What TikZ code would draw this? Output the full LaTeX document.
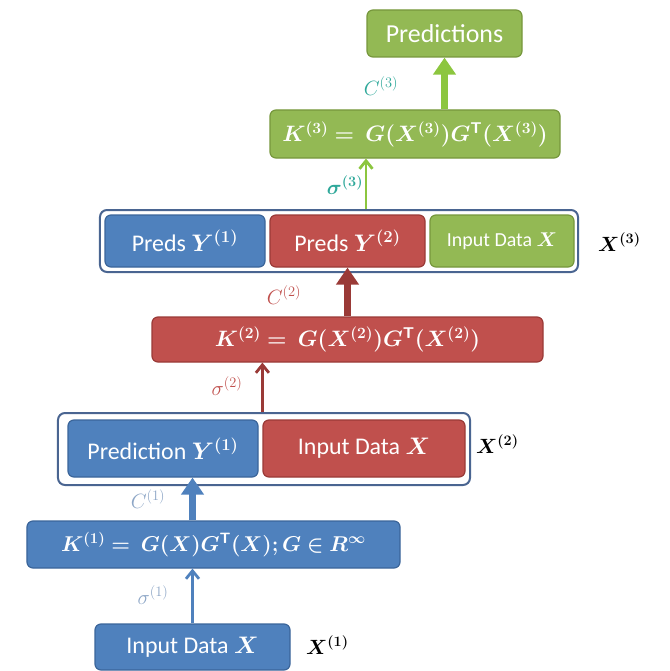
\RequirePackage{fix-cm}
\documentclass[tikz,border=0pt]{standalone}
\usepackage[no-math]{fontspec}
\setmainfont{Carlito}
\usepackage{amsmath,bm}
\usetikzlibrary{arrows.meta}
\definecolor{oblue}{HTML}{4F81BD}
\definecolor{oblueD}{HTML}{3B659A}
\definecolor{ored}{HTML}{C0504D}
\definecolor{oredD}{HTML}{9A3A37}
\definecolor{ogreen}{HTML}{93B954}
\definecolor{ogreenD}{HTML}{76973C}
\definecolor{ogreenA}{HTML}{8CC63F}
\definecolor{oteal}{HTML}{2FA89A}
\definecolor{olight}{HTML}{8DA6C6}
\definecolor{ogroup}{HTML}{4A6591}
\newcommand{\boxfont}{\fontsize{24}{28}\selectfont}
\newcommand{\formfont}{\fontsize{20.7}{25}\selectfont}
\tikzset{
  box/.style={rounded corners=6bp, line width=1.2bp, text=white, inner sep=0pt,
    font=\boxfont},
  bbox/.style={box, fill=oblue, draw=oblueD},
  rbox/.style={box, fill=ored, draw=oredD},
  gbox/.style={box, fill=ogreen, draw=ogreenD},
  formula/.style={font=\fontsize{22.4}{27}\selectfont},
  grp/.style={rounded corners=7bp, line width=2bp, draw=ogroup, fill=white, inner sep=0pt},
  lab/.style={font=\formfont, inner sep=0pt},
  thick arrow/.style={line width=6.5bp, -{Triangle[width=22bp,length=17bp]}},
  thin arrow/.style={line width=2.8bp, -{Straight Barb[width=13bp,length=8bp,line width=2.8bp]}},
}
\begin{document}
\begin{tikzpicture}[x=1bp,y=-1bp]
\useasboundingbox (0,0) rectangle (670,671);
% top
\node[gbox, font=\fontsize{26}{30}\selectfont, minimum width=155bp, minimum height=47bp] (pred) at (444.5,33.5) {Predictions};
\node[gbox, formula, minimum width=290bp, minimum height=48bp] (k3) at (415,134)
  {$\bm{K^{(3)} =\ G(X^{(3)})G^{\mathsf{T}}(X^{(3)})}$};
% group 3
\node[grp, minimum width=478bp, minimum height=62bp] (g3) at (339,241) {};
\node[bbox, minimum width=160bp, minimum height=52bp] (g3a) at (185,241) {Preds $\bm{Y^{(1)}}$};
\node[rbox, minimum width=155bp, minimum height=52bp] (g3b) at (347.5,241) {Preds $\bm{Y^{(2)}}$};
\node[gbox, font=\fontsize{20}{24}\selectfont, minimum width=144bp, minimum height=52bp] (g3c) at (502,241) {Input Data $\bm{X}$};
\node[lab, anchor=west] (x3) at (598,242) {$\bm{X^{(3)}}$};
% K2
\node[rbox, formula, minimum width=391bp, minimum height=45bp] (k2) at (347.5,339.5)
  {$\bm{K^{(2)} =\ G(X^{(2)})G^{\mathsf{T}}(X^{(2)})}$};
% group 2
\node[grp, minimum width=412bp, minimum height=72bp] (g2) at (264,449) {};
\node[bbox, minimum width=190bp, minimum height=57bp] (g2a) at (163,448.5) {Prediction $\bm{Y^{(1)}}$};
\node[rbox, minimum width=202bp, minimum height=57bp] (g2b) at (364,448.5) {Input Data $\bm{X}$};
\node[lab, anchor=west] (x2) at (476,444) {$\bm{X^{(2)}}$};
% K1
\node[bbox, font=\fontsize{21.5}{26}\selectfont, minimum width=373bp, minimum height=47bp] (k1) at (213.5,544.5)
  {$\bm{K^{(1)} =\ G(X)G^{\mathsf{T}}(X); G \in R^{\infty}}$};
% input
\node[bbox, minimum width=195bp, minimum height=46bp] (in) at (192.5,647) {Input Data $\bm{X}$};
\node[lab, anchor=west] (x1) at (306,645) {$\bm{X^{(1)}}$};
% arrows
\draw[thick arrow, ogreenA] (pred.south |- k3.north) -- (pred.south);
\draw[thin arrow, ogreenA] (g3.north -| 366,0) -- (k3.south -| 366,0);
\draw[thick arrow, oredD] (k2.north) -- (g3b.south -| k2.north);
\draw[thin arrow, oredD] (g2.north -| g2b.west) -- (k2.south -| g2b.west);
\draw[thick arrow, oblue] (in.north |- k1.north) -- (in.north |- g2a.south);
\draw[thin arrow, oblue] (in.north) -- (k1.south -| in.north);
% labels
\node[lab, text=oteal] (c3) at (381,86) {$C^{(3)}$};
\node[lab, text=oteal] (s3) at (345,185) {$\bm{\sigma^{(3)}}$};
\node[lab, text=ored] (c2) at (284,295) {$C^{(2)}$};
\node[lab, text=ored] (s2) at (227,386) {$\sigma^{(2)}$};
\node[lab, text=olight] (c1) at (148,499) {$C^{(1)}$};
\node[lab, text=olight] (s1) at (153,595) {$\sigma^{(1)}$};
\end{tikzpicture}
\end{document}
